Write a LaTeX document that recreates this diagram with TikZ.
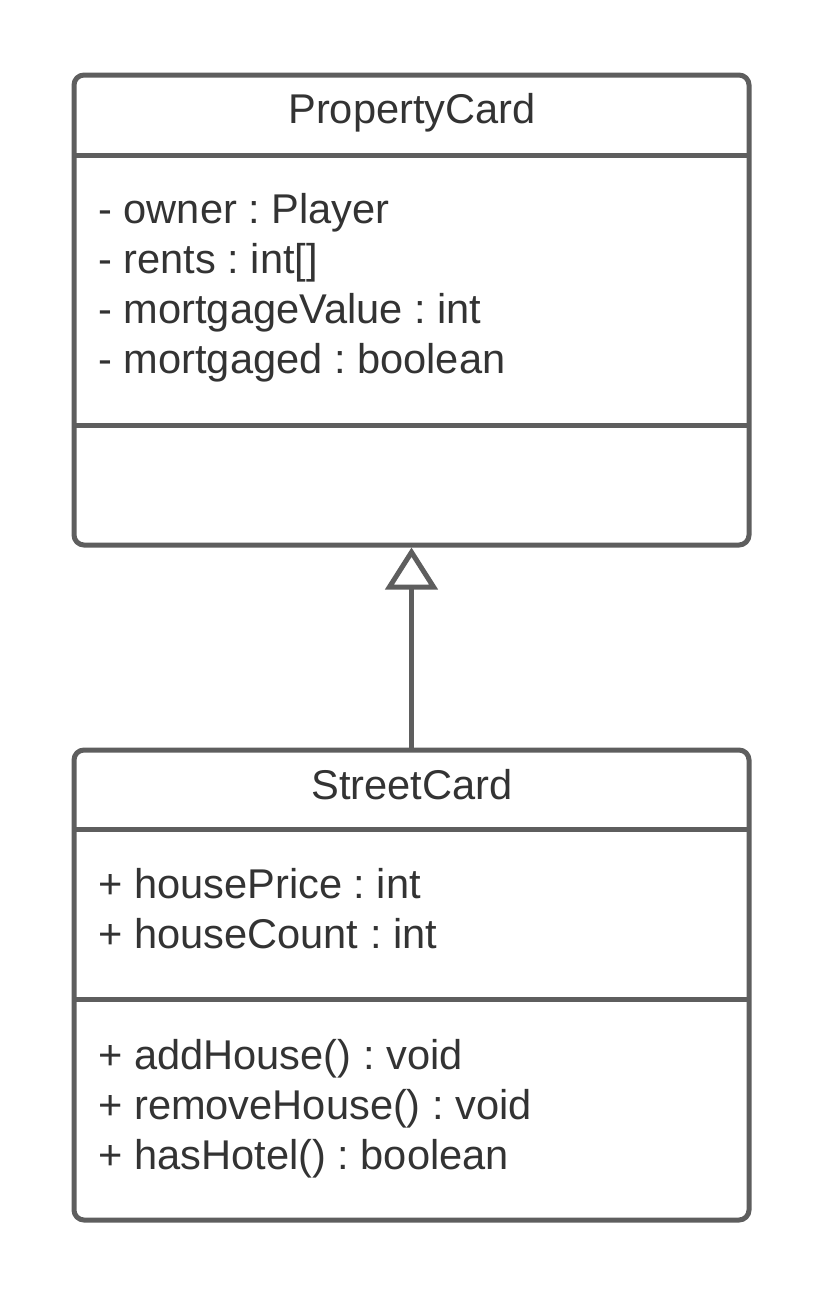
\documentclass[tikz,border=0pt]{standalone}
\usepackage{fontspec}
\setmainfont{Liberation Sans}
\usetikzlibrary{arrows.meta, positioning}
\definecolor{umlline}{HTML}{5E5E5E}
\definecolor{umltext}{HTML}{333333}
\frenchspacing

\begin{document}
\begin{tikzpicture}[
    x=0.5pt, y=-0.5pt,
    font=\fontsize{20.8}{26}\selectfont,
    classbox/.style={
        draw=umlline,
        line width=2.5pt,
        rounded corners=5pt,
        fill=white,
        inner sep=0pt,
        minimum width=337.5pt,
        minimum height=235pt
    },
    title/.style={anchor=base, inner sep=0pt, text=umltext},
    member/.style={anchor=base west, inner sep=0pt, text=umltext},
    divider/.style={draw=umlline, line width=2.5pt},
    inherit/.style={draw=umlline, line width=2.5pt,
        -{Triangle[open, length=21pt, width=26pt, fill=white]}}
]
\useasboundingbox (0,0) rectangle (825,1296);

% Parent class
\node[classbox] (propcard) at (411.5,310) {};
\node[title] (propcard_name) at (412,123) {PropertyCard};
\draw[divider] (75,155) -- (749,155);
\node[member] (owner) at (98,223) {- owner : Player};
\node[member] (rents) at (98,273) {- rents : int[]};
\node[member] (mvalue) at (98,323) {- mortgageValue : int};
\node[member] (mortgaged) at (98,373) {- mortgaged : boolean};
\draw[divider] (75,425) -- (749,425);

% Child class
\node[classbox] (streetcard) at (411.5,985) {};
\node[title] (streetcard_name) at (412,799) {StreetCard};
\draw[divider] (75,829) -- (749,829);
\node[member] (hprice) at (98,898) {+ housePrice : int};
\node[member] (hcount) at (98,948) {+ houseCount : int};
\draw[divider] (75,999) -- (749,999);
\node[member] (addhouse) at (98,1069) {+ addHouse() : void};
\node[member] (removehouse) at (98,1119) {+ removeHouse() : void};
\node[member] (hashotel) at (98,1169) {+ hasHotel() : boolean};

% Generalisation
\draw[inherit] (streetcard.north) -- (propcard.south);

\end{tikzpicture}
\end{document}
